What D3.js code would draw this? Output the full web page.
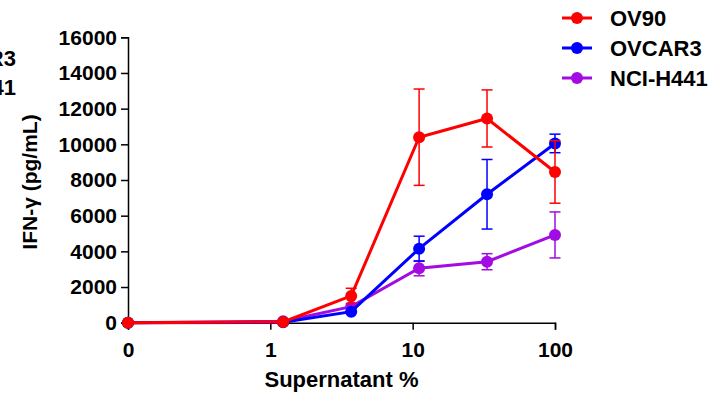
<!DOCTYPE html>
<html>
<head>
<meta charset="utf-8">
<script src="https://cdn.jsdelivr.net/npm/d3@7"></script>
<style>
  body { margin: 0; background: #fff; }
  svg text { font-family: Arial, "Liberation Sans", sans-serif; font-weight: bold; }
</style>
</head>
<body>
<div id="chart"></div>
<script>
// supernatant % (3-fold dilutions), 0 drawn at the left edge of the log axis
var doses = [0, 1.23, 3.7, 11.1, 33.3, 100];
var seriesNames = ["NCI-H441", "OVCAR3", "OV90"];
var seriesColors = ["#a20be2", "#0000ff", "#ff0000"];
var meanNCI = [0, 80, 900, 3050, 3420, 4920];
var errNCI = [0, 0, 0, 420, 450, 1290];
var meanOVCAR3 = [0, 20, 620, 4150, 7200, 10050];
var errOVCAR3 = [0, 0, 0, 700, 1950, 520];
var meanOV90 = [0, 40, 1500, 10400, 11450, 8450];
var errOV90 = [0, 0, 430, 2700, 1600, 1750];
var yTicks = [0, 2000, 4000, 6000, 8000, 10000, 12000, 14000, 16000];
var xTicks = [0.1, 1, 10, 100];
var xTickLabels = ["0", "1", "10", "100"];
var legendOrder = ["OV90", "OVCAR3", "NCI-H441"];

var means = [meanNCI, meanOVCAR3, meanOV90];
var errs = [errNCI, errOVCAR3, errOV90];

var W = 713, H = 394;
var svg = d3.select("#chart").append("svg").attr("width", W).attr("height", H);

var x = d3.scaleLog().domain([0.1, 100]).range([128, 555]);
var y = d3.scaleLinear().domain([0, 16000]).range([322.7, 37.3]);
var xPos = function (d) { return x(d === 0 ? 0.1 : d); };

// axes
var xAxis = svg.append("g")
  .attr("transform", "translate(0," + y(0) + ")")
  .call(d3.axisBottom(x).tickValues(xTicks).tickFormat(function (d, i) { return xTickLabels[i]; })
    .tickSizeOuter(0).tickSize(7).tickPadding(12));
xAxis.selectAll("text").style("font-size", "21px").attr("fill", "#000");

var yAxis = svg.append("g")
  .attr("transform", "translate(" + x(0.1) + ",0)")
  .call(d3.axisLeft(y).tickValues(yTicks).tickSizeOuter(0).tickSize(7).tickPadding(4).tickFormat(d3.format("d")));
yAxis.selectAll("text").style("font-size", "21px").attr("fill", "#000");

svg.selectAll(".domain, .tick line").attr("stroke", "#000").attr("stroke-width", 1.5);

// titles
svg.append("text").attr("x", (x(0.1) + x(100)) / 2).attr("y", 387)
  .attr("text-anchor", "middle").style("font-size", "22px").text("Supernatant %");
svg.append("text").attr("transform", "translate(37,182) rotate(-90)")
  .attr("text-anchor", "middle").style("font-size", "21px").text("IFN-γ (pg/mL)");

// series
var line = d3.line().x(function (d) { return xPos(d.x); }).y(function (d) { return y(d.m); });
seriesNames.forEach(function (name, s) {
  var pts = doses.map(function (d, i) { return { x: d, m: means[s][i], e: errs[s][i] }; });
  var g = svg.append("g");
  g.append("path").datum(pts).attr("d", line).attr("fill", "none")
    .attr("stroke", seriesColors[s]).attr("stroke-width", 3);
  var eb = g.selectAll(".eb").data(pts.filter(function (p) { return p.e > 0; })).enter().append("g");
  eb.append("line").attr("x1", function (p) { return xPos(p.x); }).attr("x2", function (p) { return xPos(p.x); })
    .attr("y1", function (p) { return y(p.m + p.e); }).attr("y2", function (p) { return y(p.m - p.e); });
  eb.append("line").attr("x1", function (p) { return xPos(p.x) - 5.5; }).attr("x2", function (p) { return xPos(p.x) + 5.5; })
    .attr("y1", function (p) { return y(p.m + p.e); }).attr("y2", function (p) { return y(p.m + p.e); });
  eb.append("line").attr("x1", function (p) { return xPos(p.x) - 5.5; }).attr("x2", function (p) { return xPos(p.x) + 5.5; })
    .attr("y1", function (p) { return y(p.m - p.e); }).attr("y2", function (p) { return y(p.m - p.e); });
  eb.selectAll("line").attr("stroke", seriesColors[s]).attr("stroke-width", 1.5);
  g.selectAll("circle").data(pts).enter().append("circle")
    .attr("cx", function (p) { return xPos(p.x); }).attr("cy", function (p) { return y(p.m); })
    .attr("r", 6).attr("fill", seriesColors[s]);
});

// legend
legendOrder.forEach(function (name, i) {
  var c = seriesColors[seriesNames.indexOf(name)];
  var ly = 18 + i * 30;
  svg.append("line").attr("x1", 562).attr("x2", 592).attr("y1", ly).attr("y2", ly)
    .attr("stroke", c).attr("stroke-width", 3);
  svg.append("circle").attr("cx", 577).attr("cy", ly).attr("r", 6).attr("fill", c);
  svg.append("text").attr("x", 610).attr("y", ly).attr("dy", "0.36em")
    .style("font-size", "22px").text(name);
});

// cut-off legend of the neighbouring panel
["OVCAR3", "NCI-H441"].forEach(function (name, i) {
  svg.append("text").attr("x", 16).attr("y", 58 + i * 29).attr("dy", "0.36em")
    .attr("text-anchor", "end").style("font-size", "22px").text(name);
});
</script>
</body>
</html>
